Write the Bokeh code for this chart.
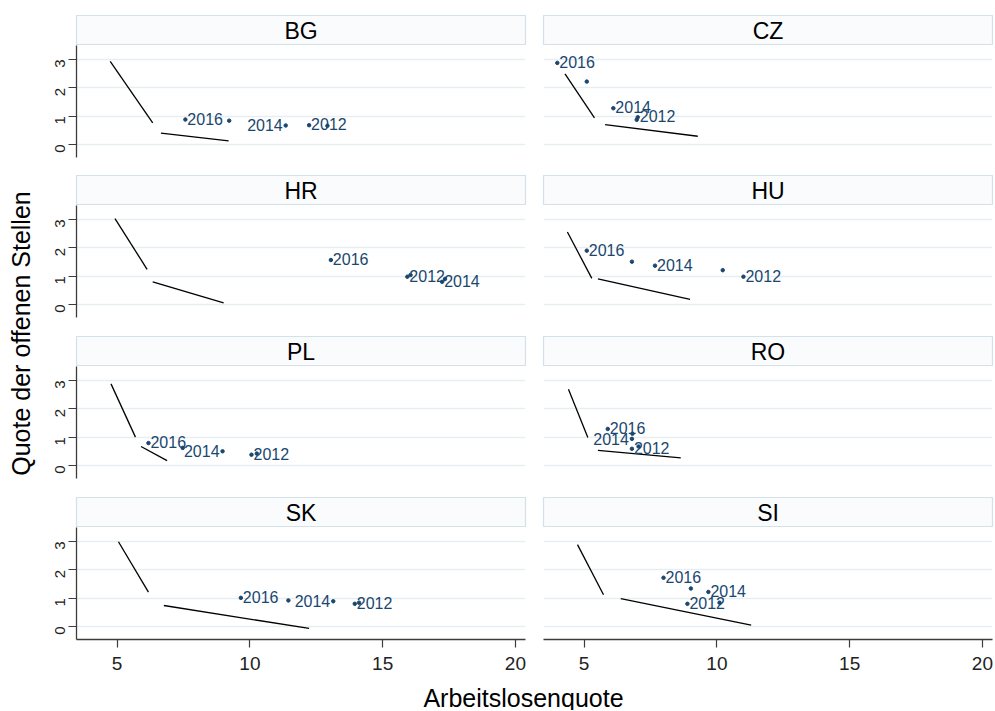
import math
from bokeh.plotting import figure
from bokeh.layouts import column, row
from bokeh.models import Range1d, FixedTicker, Label, LinearAxis, Grid
from bokeh.core.properties import value
from bokeh.embed import file_html
from bokeh.resources import INLINE

# ---------------- data ----------------
countries = ["BG", "CZ", "HR", "HU", "PL", "RO", "SK", "SI"]
years = [2012, 2013, 2014, 2015, 2016]
labelled_years = [2012, 2014, 2016]

# unemployment rate (x) per year 2012..2016
unemp = {
    "BG": [12.23, 12.92, 11.35, 9.22, 7.57],
    "CZ": [7.02, 6.98, 6.10, 5.10, 3.99],
    "HR": [15.93, 17.35, 17.24, 16.05, 13.05],
    "HU": [11.00, 10.22, 7.67, 6.80, 5.10],
    "PL": [10.06, 10.26, 8.97, 7.47, 6.18],
    "RO": [6.80, 7.05, 6.80, 6.82, 5.89],
    "SK": [13.95, 14.11, 13.14, 11.45, 9.66],
    "SI": [8.89, 10.10, 9.68, 9.02, 7.99],
}
# job vacancy rate (y) per year 2012..2016
vacancy = {
    "BG": [0.68, 0.66, 0.67, 0.84, 0.88],
    "CZ": [0.96, 0.87, 1.28, 2.22, 2.88],
    "HR": [0.98, 0.90, 0.80, 1.04, 1.57],
    "HU": [0.98, 1.21, 1.37, 1.51, 1.90],
    "PL": [0.38, 0.42, 0.50, 0.62, 0.79],
    "RO": [0.59, 0.67, 0.94, 1.12, 1.29],
    "SK": [0.80, 0.84, 0.89, 0.92, 1.01],
    "SI": [0.80, 0.84, 1.22, 1.34, 1.72],
}
# two line segments per country (Beveridge curve sections)
curve_x0 = {"BG": [4.74, 6.65], "CZ": [4.28, 5.79], "HR": [4.92, 6.34], "HU": [4.37, 5.52],
            "PL": [4.77, 5.90], "RO": [4.41, 5.52], "SK": [5.05, 6.76], "SI": [4.75, 6.38]}
curve_y0 = {"BG": [2.93, 0.40], "CZ": [2.49, 0.70], "HR": [3.03, 0.80], "HU": [2.56, 0.90],
            "PL": [2.88, 0.67], "RO": [2.69, 0.53], "SK": [2.99, 0.74], "SI": [2.89, 0.98]}
curve_x1 = {"BG": [6.34, 9.20], "CZ": [5.39, 9.28], "HR": [6.13, 9.01], "HU": [5.29, 8.99],
            "PL": [5.69, 6.88], "RO": [5.14, 8.64], "SK": [6.18, 12.23], "SI": [5.73, 11.29]}
curve_y1 = {"BG": [0.76, 0.13], "CZ": [0.94, 0.29], "HR": [1.24, 0.06], "HU": [0.92, 0.18],
            "PL": [1.00, 0.17], "RO": [0.99, 0.27], "SK": [1.21, -0.07], "SI": [1.12, 0.05]}
# labels drawn to the left of their point
left_labels = {"BG": [2014], "PL": [2014], "RO": [2014], "SK": [2014]}

x_ticks = [5, 10, 15, 20]
y_ticks = [0, 1, 2, 3]
x_title = "Arbeitslosenquote"
y_title = "Quote der offenen Stellen"

# ---------------- style ----------------
FONT = "Liberation Sans"
NAVY = "#1a476f"
GRID = "#e6eef1"
STRIP_FILL = "#f9fbfc"
STRIP_LINE = "#d3e1e8"
AXIS = "#3c3c3c"
FRAME_W = 449
FRAME_H = 112
XR = (3.47, 20.38)
YR = (-0.46, 3.494)
YT_W = 38
GAPS = [18, 19, 19]
TOP_PAD = 15
BOTTOM_AXIS = 40
XT_H = 31


def style_axis(ax, size):
    ax.axis_line_color = AXIS
    ax.axis_line_width = 1.3
    ax.major_tick_line_color = AXIS
    ax.major_tick_line_width = 1.2
    ax.major_tick_in = 0
    ax.major_tick_out = 8
    ax.minor_tick_line_color = None
    ax.major_label_text_font = FONT
    ax.major_label_text_font_size = size
    ax.major_label_text_color = "#222222"


def make_panel(c, col, rowi):
    left = col == 0
    bottom = rowi == 3
    bl = 38 if left else 9
    br = 9 if left else 2

    hdr = figure(frame_width=FRAME_W, frame_height=30,
                 x_range=Range1d(0, 1), y_range=Range1d(0, 1),
                 x_axis_location=None, y_axis_location=None,
                 toolbar_location=None, output_backend="svg",
                 min_border_left=bl, min_border_right=br,
                 min_border_top=TOP_PAD if rowi == 0 else 0, min_border_bottom=0)
    hdr.grid.visible = False
    hdr.background_fill_color = STRIP_FILL
    hdr.outline_line_color = STRIP_LINE
    hdr.outline_line_width = 1.2
    hdr.text(x=[0.5], y=[0.5], text=[c], text_align="center", text_baseline="middle",
             text_font=value(FONT), text_font_size="23px", text_color="black")

    p = figure(frame_width=FRAME_W, frame_height=FRAME_H,
               x_range=Range1d(*XR), y_range=Range1d(*YR),
               x_axis_location=None, y_axis_location=None,
               toolbar_location=None, output_backend="svg",
               min_border_left=bl, min_border_right=br,
               min_border_top=0, min_border_bottom=BOTTOM_AXIS if bottom else GAPS[rowi])
    p.grid.visible = False
    p.outline_line_color = None
    p.background_fill_color = "white"
    p.border_fill_color = "white"

    g = Grid(dimension=1, ticker=FixedTicker(ticks=y_ticks),
             grid_line_color=GRID, grid_line_width=1.6)
    p.add_layout(g, "center")

    if left:
        ya = LinearAxis(ticker=FixedTicker(ticks=y_ticks))
        style_axis(ya, "15px")
        ya.major_label_orientation = math.pi / 2
        ya.major_label_standoff = 8
        p.add_layout(ya, "left")
    if bottom:
        xa = LinearAxis(ticker=FixedTicker(ticks=x_ticks))
        style_axis(xa, "19px")
        xa.major_label_standoff = 9
        p.add_layout(xa, "below")

    p.segment(x0=curve_x0[c], y0=curve_y0[c], x1=curve_x1[c], y1=curve_y1[c],
              line_color="black", line_width=1.3)
    p.scatter(x=unemp[c], y=vacancy[c], size=3.5, marker="circle",
              fill_color=NAVY, line_color=NAVY)

    lefts = left_labels.get(c, [])
    rx, ry, rt, lx, ly, lt = [], [], [], [], [], []
    for yr, u, v in zip(years, unemp[c], vacancy[c]):
        if yr not in labelled_years:
            continue
        if yr in lefts:
            lx.append(u); ly.append(v); lt.append(str(yr))
        else:
            rx.append(u); ry.append(v); rt.append(str(yr))
    if rx:
        p.text(x=rx, y=ry, text=rt, x_offset=2, y_offset=-1,
               text_align="left", text_baseline="alphabetic",
               text_font=value(FONT), text_font_size="16px", text_color=NAVY)
    if lx:
        p.text(x=lx, y=ly, text=lt, x_offset=-3, y_offset=0,
               text_align="right", text_baseline="middle",
               text_font=value(FONT), text_font_size="16px", text_color=NAVY)
    return column(hdr, p)


rows = []
for r in range(4):
    panels = [make_panel(countries[2 * r + k], k, r) for k in range(2)]
    rows.append(row(*panels))
grid_col = column(*rows)

GRID_H = TOP_PAD + sum(30 + FRAME_H + g for g in GAPS) + (30 + FRAME_H + BOTTOM_AXIS)

yt = figure(frame_width=YT_W, frame_height=GRID_H, x_range=Range1d(0, YT_W), y_range=Range1d(0, GRID_H),
            x_axis_location=None, y_axis_location=None, toolbar_location=None,
            output_backend="svg", min_border=0)
yt.grid.visible = False
yt.outline_line_color = None
yt.add_layout(Label(x=20, y=GRID_H - 333, text=y_title, angle=math.pi / 2,
                    text_align="center", text_baseline="middle",
                    text_font=FONT, text_font_size="25px", text_color="black"))

TOTAL_W = YT_W + (38 + FRAME_W + 9) + (9 + FRAME_W + 2)
xt = figure(frame_width=TOTAL_W, frame_height=XT_H, x_range=Range1d(0, TOTAL_W), y_range=Range1d(0, XT_H),
            x_axis_location=None, y_axis_location=None, toolbar_location=None,
            output_backend="svg", min_border=0)
xt.grid.visible = False
xt.outline_line_color = None
xt.add_layout(Label(x=523, y=13, text=x_title, text_align="center", text_baseline="middle",
                    text_font=FONT, text_font_size="25px", text_color="black"))

layout = column(row(yt, grid_col), xt)

open("out.html", "w").write(file_html(layout, INLINE))
